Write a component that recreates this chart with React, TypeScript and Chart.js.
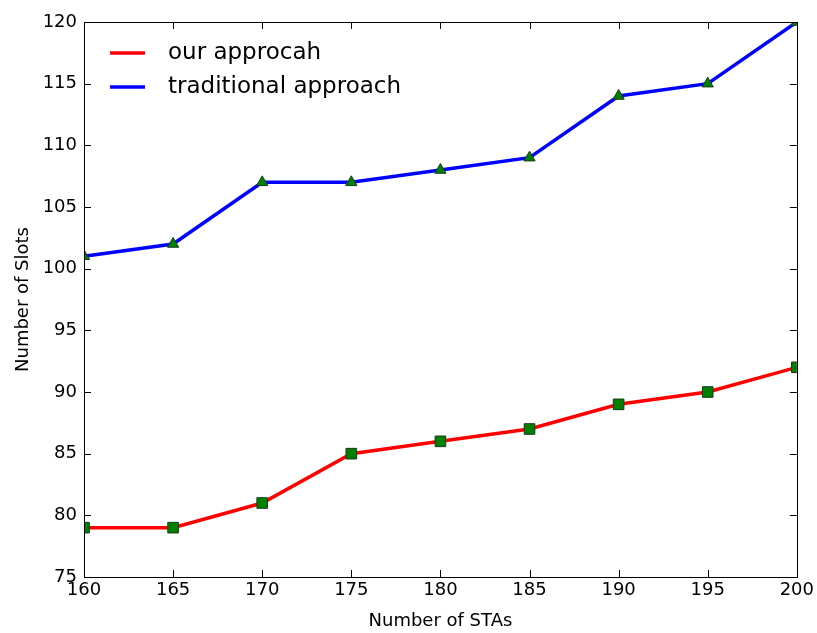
import React, { useEffect, useRef } from "react";
import { Chart, registerables } from "chart.js";

Chart.register(...registerables);

const staCounts = [160, 165, 170, 175, 180, 185, 190, 195, 200];
const ourApproach = [79, 79, 81, 85, 86, 87, 89, 90, 92];
const traditionalApproach = [101, 102, 107, 107, 108, 109, 114, 115, 120];
const seriesLabels = ["our approcah", "traditional approach"];
const xTickValues = [160, 165, 170, 175, 180, 185, 190, 195, 200];
const yTickValues = [75, 80, 85, 90, 95, 100, 105, 110, 115, 120];
const xTitle = "Number of STAs";
const yTitle = "Number of Slots";

const FONT = "'DejaVu Sans', sans-serif";

const framePlugin = {
  id: "mplFrame",
  afterDraw(chart: any) {
    const { ctx, chartArea: a, scales } = chart;
    const L = 7;
    ctx.save();
    ctx.strokeStyle = "#000";
    ctx.lineWidth = 1;
    ctx.beginPath();
    for (const v of xTickValues) {
      const px = Math.round(scales.x.getPixelForValue(v)) + 0.5;
      ctx.moveTo(px, a.bottom);
      ctx.lineTo(px, a.bottom - L);
      ctx.moveTo(px, a.top);
      ctx.lineTo(px, a.top + L);
    }
    for (const v of yTickValues) {
      const py = Math.round(scales.y.getPixelForValue(v)) + 0.5;
      ctx.moveTo(a.left, py);
      ctx.lineTo(a.left + L, py);
      ctx.moveTo(a.right, py);
      ctx.lineTo(a.right - L, py);
    }
    ctx.stroke();
    ctx.strokeRect(Math.round(a.left) + 0.5, Math.round(a.top) + 0.5, Math.round(a.right - a.left), Math.round(a.bottom - a.top));
    ctx.restore();
  },
};

const legendPlugin = {
  id: "mplLegend",
  afterDraw(chart: any) {
    const { ctx, chartArea: a } = chart;
    ctx.save();
    ctx.font = `23px ${FONT}`;
    ctx.textBaseline = "middle";
    ctx.fillStyle = "#000";
    chart.data.datasets.forEach((ds: any, i: number) => {
      const y = a.top + 31 + i * 34;
      ctx.strokeStyle = ds.borderColor;
      ctx.lineWidth = 3.5;
      ctx.beginPath();
      ctx.moveTo(a.left + 26, y);
      ctx.lineTo(a.left + 61, y);
      ctx.stroke();
      ctx.fillText(ds.label, a.left + 84, y);
    });
    ctx.restore();
  },
};

export default function App() {
  const ref = useRef<HTMLCanvasElement>(null);
  useEffect(() => {
    if (!ref.current) return;
    const chart = new Chart(ref.current, {
      type: "line",
      data: {
        datasets: [
          {
            label: seriesLabels[0],
            data: staCounts.map((x, i) => ({ x, y: ourApproach[i] })),
            borderColor: "#ff0000",
            borderWidth: 3.5,
            pointStyle: "rect",
            pointRadius: 7.5,
            pointBackgroundColor: "#008000",
            pointBorderColor: "#1a3a1a",
            pointBorderWidth: 1,
            tension: 0,
          },
          {
            label: seriesLabels[1],
            data: staCounts.map((x, i) => ({ x, y: traditionalApproach[i] })),
            borderColor: "#0000ff",
            borderWidth: 3.5,
            pointStyle: "triangle",
            pointRadius: 6.5,
            pointBackgroundColor: "#008000",
            pointBorderColor: "#1a3a1a",
            pointBorderWidth: 1,
            tension: 0,
          },
        ],
      },
      options: {
        animation: false,
        responsive: false,
        devicePixelRatio: 1,
        layout: { padding: { left: 0, top: 22, right: 19, bottom: 0 } },
        plugins: { legend: { display: false }, tooltip: { enabled: false } },
        scales: {
          x: {
            type: "linear",
            min: 160,
            max: 200,
            afterBuildTicks: (s: any) => { s.ticks = xTickValues.map((v) => ({ value: v })); },
            afterFit: (s: any) => { s.height = 56; },
            grid: { display: false, drawTicks: false },
            border: { display: false },
            ticks: { color: "#000", font: { family: FONT, size: 18 }, padding: 3, maxRotation: 0, autoSkip: false },
            title: { display: true, text: xTitle, color: "#000", font: { family: FONT, size: 18 }, padding: { top: 0, bottom: 1 } },
          },
          y: {
            type: "linear",
            min: 75,
            max: 120,
            afterBuildTicks: (s: any) => { s.ticks = yTickValues.map((v) => ({ value: v })); },
            afterFit: (s: any) => { s.width = 84; },
            grid: { display: false, drawTicks: false },
            border: { display: false },
            ticks: { color: "#000", font: { family: FONT, size: 18 }, padding: 7, autoSkip: false },
            title: { display: true, text: yTitle, color: "#000", font: { family: FONT, size: 18 }, padding: { top: 13, bottom: 0 } },
          },
        },
      },
      plugins: [framePlugin, legendPlugin],
    } as any);
    return () => chart.destroy();
  }, []);
  return (
    <div style={{ position: "fixed", left: 0, top: 0, width: 817, height: 633, background: "#fff" }}>
      <canvas ref={ref} width={817} height={633} />
    </div>
  );
}
